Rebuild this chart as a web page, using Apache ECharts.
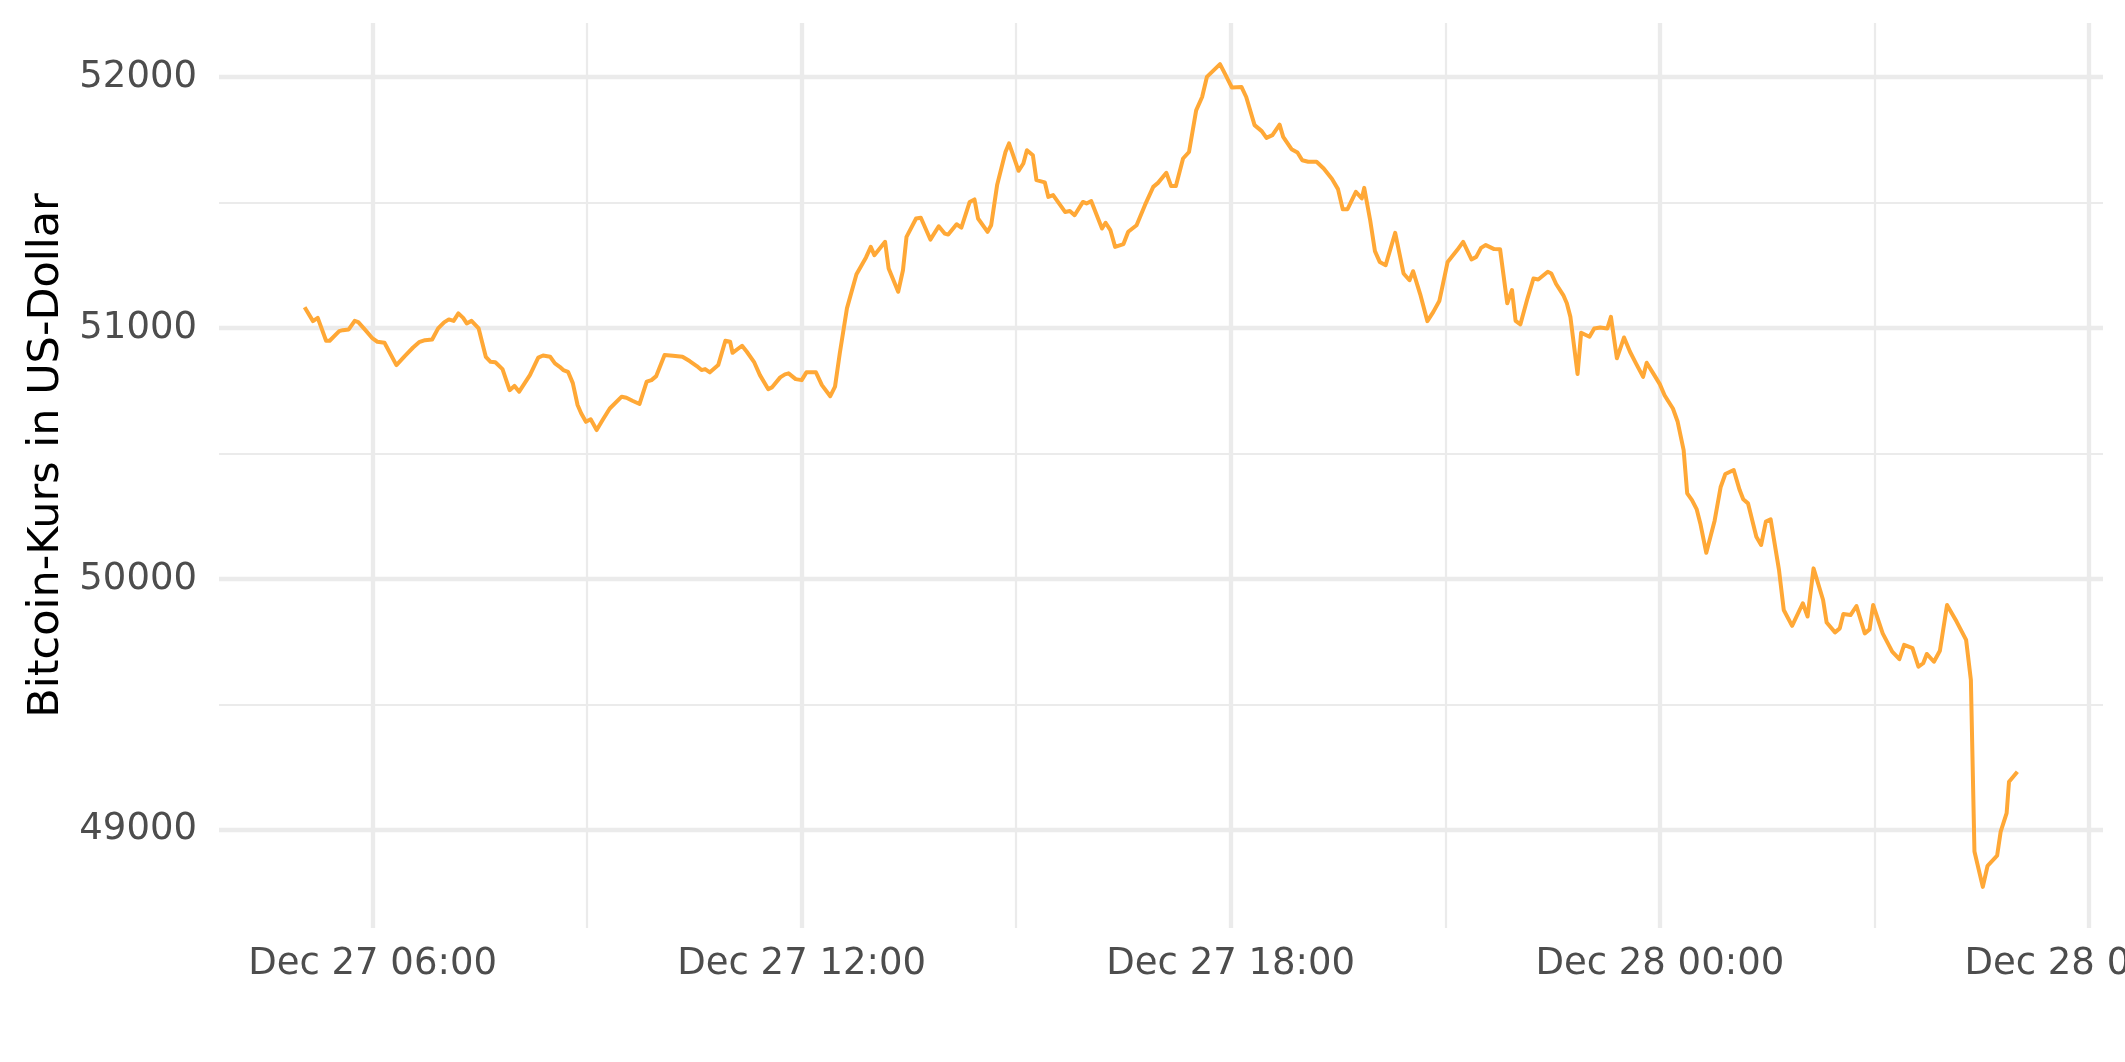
<!DOCTYPE html>
<html><head><meta charset="utf-8">
<script src="https://cdn.jsdelivr.net/npm/echarts@6/dist/echarts.min.js"></script>
<style>html,body{margin:0;padding:0;background:#fff}#c{width:2125px;height:1062px}</style>
</head><body><div id="c"></div>
<script>
// Times of the price readings (Dec 27 and Dec 28, 2021)
const times27 = [
'05:03','05:10','05:14','05:21','05:24','05:32','05:35','05:40','05:45','05:48',
'05:54','06:00','06:04','06:10','06:20','06:27','06:34','06:39','06:44','06:50',
'06:55','07:00','07:04','07:08','07:12','07:16','07:19','07:23','07:29','07:35',
'07:39','07:43','07:49','07:55','07:59','08:03','08:12','08:19','08:23','08:29',
'08:33','08:37','08:40','08:44','08:48','08:52','08:55','08:59','09:03','09:08',
'09:13','09:19','09:29','09:33','09:38','09:44','09:50','09:54','09:58','10:05',
'10:12','10:20','10:26','10:32','10:36','10:39','10:43','10:50','10:56','11:00',
'11:02','11:10','11:14','11:20','11:25','11:32','11:35','11:42','11:46','11:49',
'11:55','12:00','12:04','12:12','12:17','12:24','12:28','12:32','12:38','12:46',
'12:54','12:58','13:01','13:10','13:13','13:21','13:25','13:28','13:36','13:40',
'13:48','13:55','14:00','14:03','14:10','14:14','14:21','14:25','14:28','14:36',
'14:39','14:44','14:51','14:54','15:02','15:06','15:09','15:14','15:17','15:24',
'15:27','15:31','15:41','15:45','15:49','15:56','15:59','16:03','16:12','16:15',
'16:19','16:23','16:30','16:34','16:41','16:48','16:55','16:59','17:06','17:10',
'17:14','17:20','17:25','17:31','17:36','17:40','17:51','17:55','18:01','18:09',
'18:13','18:20','18:26','18:30','18:35','18:41','18:44','18:51','18:56','19:00',
'19:05','19:12','19:18','19:25','19:30','19:34','19:38','19:45','19:50','19:52',
'19:57','20:01','20:05','20:10','20:18','20:25','20:30','20:33','20:39','20:45',
'20:50','20:55','21:02','21:10','21:15','21:22','21:26','21:30','21:34','21:41',
'21:46','21:52','21:56','21:59','22:03','22:09','22:14','22:18','22:26','22:29',
'22:33','22:39','22:42','22:45','22:51','22:54','23:01','23:05','23:10','23:16',
'23:19','23:24','23:30','23:35','23:40','23:46','23:49','23:55'
];
const times28 = [
'00:00','00:04','00:07','00:11','00:15','00:20','00:23','00:27','00:31','00:34',
'00:39','00:46','00:51','00:55','01:02','01:07','01:10','01:14','01:21','01:25',
'01:29','01:33','01:40','01:44','01:51','02:00','02:04','02:09','02:17','02:20',
'02:27','02:31','02:34','02:40','02:45','02:52','02:56','02:59','03:07','03:15',
'03:21','03:25','03:32','03:37','03:41','03:44','03:50','03:55','04:01','04:09',
'04:17','04:21','04:24','04:31','04:35','04:43','04:46','04:51','04:53','05:00'
];
// Bitcoin price in USD at each time above
const prices = [
51082,51027,51040,50949,50949,50987,50991,50994,51028,51023,
50991,50958,50945,50941,50852,50888,50922,50943,50951,50954,
50998,51022,51034,51028,51058,51040,51018,51028,50998,50885,
50865,50863,50836,50752,50769,50746,50812,50882,50890,50885,
50859,50845,50832,50825,50780,50693,50660,50626,50636,50593,
50633,50679,50726,50722,50710,50697,50786,50792,50808,50892,
50889,50885,50868,50848,50832,50836,50823,50852,50949,50945,
50901,50929,50905,50865,50812,50756,50763,50803,50815,50819,
50796,50792,50823,50823,50772,50728,50766,50899,51078,51214,
51281,51323,51290,51343,51237,51144,51230,51363,51436,51439,
51352,51405,51376,51372,51413,51400,51502,51512,51436,51383,
51409,51569,51701,51735,51626,51655,51708,51688,51589,51580,
51522,51529,51462,51466,51449,51502,51496,51505,51396,51419,
51390,51323,51334,51383,51409,51489,51562,51578,51618,51565,
51565,51675,51701,51867,51920,52000,52051,52014,51958,51960,
51920,51808,51784,51757,51768,51810,51761,51712,51699,51668,
51662,51662,51635,51593,51553,51473,51473,51542,51516,51558,
51429,51306,51263,51250,51379,51217,51190,51226,51134,51027,
51064,51107,51263,51310,51343,51273,51283,51319,51330,51314,
51313,51098,51151,51028,51014,51118,51197,51193,51224,51217,
51175,51131,51098,51044,50816,50981,50965,50998,51002,50998,
51044,50879,50962,50905,50859,50805,50861,50815,50776,50732,
50709,50679,50626,50513,50341,50314,50277,50221,50104,50232,
50365,50418,50434,50354,50317,50301,50168,50135,50228,50237,
50036,49876,49813,49903,49850,50042,49916,49826,49787,49803,
49860,49856,49892,49783,49799,49896,49783,49710,49680,49737,
49724,49650,49664,49701,49670,49714,49896,49830,49757,49597,
48914,48773,48857,48897,48993,49067,49192,49232
];
// Axis ticks
const xMajorTicks = [[27,'06:00'],[27,'12:00'],[27,'18:00'],[28,'00:00'],[28,'06:00']];
const xMinorTicks = [[27,'09:00'],[27,'15:00'],[27,'21:00'],[28,'03:00']];
const yMajorTicks = [49000, 50000, 51000, 52000];
const yMinorTicks = [49500, 50500, 51500];
const yTitle = 'Bitcoin-Kurs in US-Dollar';

function toMs(day, hm) {
  const p = hm.split(':').map(Number);
  return Date.UTC(2021, 11, day, p[0], p[1]);
}
const tms = times27.map(t => toMs(27, t)).concat(times28.map(t => toMs(28, t)));
const data = tms.map((t, i) => [t, prices[i]]);
const tMin = Math.min(...tms), tMax = Math.max(...tms);
const vMin = Math.min(...prices), vMax = Math.max(...prices);
const xPad = (tMax - tMin) * 0.05, yPad = (vMax - vMin) * 0.05;
const xMin = tMin - xPad, xMax = tMax + xPad, yMin = vMin - yPad, yMax = vMax + yPad;
const xMaj = xMajorTicks.map(d => toMs(d[0], d[1]));
const xMin2 = xMinorTicks.map(d => toMs(d[0], d[1]));
const FONT = 'DejaVu Sans';
const pad2 = n => (n < 10 ? '0' : '') + n;
function fmt(v) {
  const d = new Date(v);
  return 'Dec ' + d.getUTCDate() + ' ' + pad2(d.getUTCHours()) + ':' + pad2(d.getUTCMinutes());
}
const grid = {left: 219, right: 22, top: 23, bottom: 134, containLabel: false, outerBoundsMode: 'none'};
const chart = echarts.init(document.getElementById('c'), null, {renderer: 'canvas'});
chart.setOption({
  animation: false,
  backgroundColor: '#ffffff',
  grid: grid,
  xAxis: [
    {type: 'value', min: xMin, max: xMax, gridIndex: 0, z: 1, scale: true,
     axisLine: {show: false}, axisTick: {show: false, customValues: xMaj},
     axisLabel: {customValues: xMaj, formatter: fmt, fontFamily: FONT, fontSize: 37, color: '#4D4D4D', margin: 18, hideOverlap: false},
     splitLine: {show: true, lineStyle: {color: '#EBEBEB', width: 4.3}}},
    {type: 'value', min: xMin, max: xMax, gridIndex: 0, z: 0, scale: true,
     axisLine: {show: false}, axisTick: {show: false, customValues: xMin2},
     axisLabel: {show: false, customValues: xMin2},
     splitLine: {show: true, lineStyle: {color: '#EBEBEB', width: 2.2}}}
  ],
  yAxis: [
    {type: 'value', min: yMin, max: yMax, z: 1, scale: true,
     axisLine: {show: false}, axisTick: {show: false, customValues: yMajorTicks},
     axisLabel: {customValues: yMajorTicks, formatter: v => String(v), fontFamily: FONT, fontSize: 37, color: '#4D4D4D', margin: 22},
     splitLine: {show: true, lineStyle: {color: '#EBEBEB', width: 4.3}},
     name: yTitle, nameLocation: 'middle', nameGap: 146, nameRotate: 90,
     nameTextStyle: {fontFamily: FONT, fontSize: 43, color: '#000000', padding: [0, 0, 0, 40]}},
    {type: 'value', min: yMin, max: yMax, z: 0, scale: true,
     axisLine: {show: false}, axisTick: {show: false, customValues: yMinorTicks},
     axisLabel: {show: false, customValues: yMinorTicks},
     splitLine: {show: true, lineStyle: {color: '#EBEBEB', width: 2.2}}}
  ],
  series: [{
    type: 'line', xAxisIndex: 0, yAxisIndex: 0, data: data, showSymbol: false, symbol: 'none',
    z: 5, lineStyle: {color: '#FFA836', width: 4, join: 'round', cap: 'butt'}
  }]
});
</script></body></html>
